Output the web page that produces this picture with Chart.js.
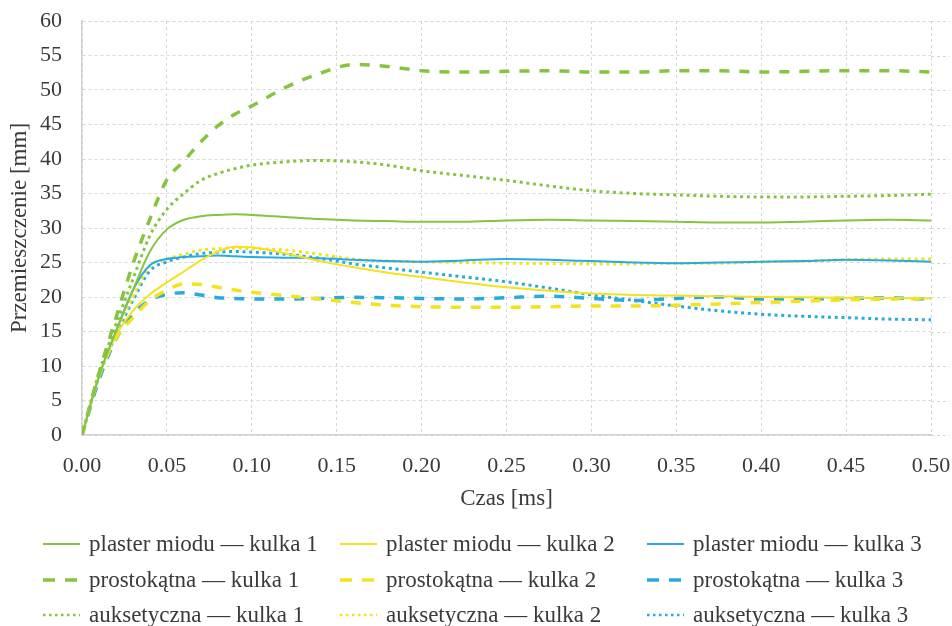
<!DOCTYPE html>
<html><head><meta charset="utf-8">
<script src="https://cdn.jsdelivr.net/npm/chart.js@4.4.1/dist/chart.umd.min.js"></script>
<style>
html,body{margin:0;padding:0;background:#fff;}
#wrap{position:relative;width:952px;height:626px;overflow:hidden;}
#c{position:absolute;left:0;top:0;}
#legend{position:absolute;left:0;top:0;width:952px;height:626px;font-family:"Liberation Serif",serif;font-size:23px;color:#3a3a3a;}
.item{position:absolute;display:flex;align-items:center;height:30px;white-space:nowrap;}
.item svg{margin-right:9px;flex:none;}
</style></head><body>
<div id="wrap"><canvas id="c" width="952" height="515"></canvas><div id="legend"></div></div>
<script>
// ---- data ----
const times = [0, 0.01, 0.02, 0.03, 0.04, 0.05, 0.06, 0.07, 0.08, 0.09, 0.10, 0.12, 0.14, 0.16, 0.18, 0.20, 0.225, 0.25, 0.275, 0.30, 0.325, 0.35, 0.375, 0.40, 0.425, 0.45, 0.475, 0.50];

const plasterK1 = [0, 8.5, 15, 21, 26.6, 29.8, 31.2, 31.7, 31.9, 32.0, 31.9, 31.6, 31.3, 31.1, 31.0, 30.9, 30.9, 31.1, 31.2, 31.1, 31.0, 30.9, 30.8, 30.8, 30.9, 31.1, 31.2, 31.1];
const plasterK2 = [0, 8.5, 14.4, 18, 20.4, 22.1, 23.7, 25.3, 26.6, 27.3, 27.2, 26.3, 25.2, 24.3, 23.5, 22.9, 22.1, 21.4, 20.9, 20.5, 20.3, 20.2, 20.1, 20.0, 19.95, 19.9, 19.85, 19.8];
const plasterK3 = [0, 8.5, 15, 21, 24.6, 25.5, 25.8, 25.9, 26.0, 25.9, 25.8, 25.7, 25.6, 25.4, 25.2, 25.1, 25.3, 25.5, 25.4, 25.2, 25.0, 24.9, 25.0, 25.1, 25.2, 25.4, 25.3, 25.1];

const prostK1 = [0, 9, 17, 24.8, 31.3, 37.0, 39.7, 42.5, 44.8, 46.5, 47.7, 50.4, 52.4, 53.7, 53.4, 52.8, 52.6, 52.7, 52.8, 52.6, 52.6, 52.8, 52.8, 52.6, 52.7, 52.8, 52.8, 52.6];
const prostK2 = [0, 8.5, 14, 17, 19.5, 21.0, 21.9, 21.8, 21.4, 21.0, 20.7, 20.2, 19.7, 19.2, 18.8, 18.6, 18.5, 18.5, 18.6, 18.7, 18.7, 18.8, 19.0, 19.2, 19.4, 19.6, 19.7, 19.8];
const prostK3 = [0, 8, 13.9, 17.5, 19.5, 20.4, 20.6, 20.3, 19.9, 19.8, 19.7, 19.7, 19.8, 19.95, 19.9, 19.8, 19.7, 19.9, 20.1, 19.8, 19.5, 19.8, 20.0, 19.7, 19.7, 19.8, 19.85, 19.7];

const auksK1 = [0, 9, 16, 22.6, 28.9, 32.7, 35.0, 36.9, 37.9, 38.6, 39.1, 39.6, 39.8, 39.6, 39.1, 38.3, 37.6, 36.9, 36.1, 35.4, 35.0, 34.8, 34.6, 34.5, 34.5, 34.6, 34.7, 34.9];
const auksK2 = [0, 8.5, 15, 20, 24.5, 25.5, 26.2, 26.8, 27.0, 27.1, 27.0, 26.8, 26.2, 25.5, 25.2, 25.1, 25.0, 24.9, 24.85, 24.8, 24.8, 24.9, 24.9, 25.1, 25.2, 25.4, 25.5, 25.5];
const auksK3 = [0, 8.5, 14.5, 19.5, 23.8, 25.1, 25.8, 26.3, 26.5, 26.6, 26.5, 26.2, 25.6, 24.8, 24.2, 23.6, 22.9, 22.2, 21.3, 20.3, 19.5, 18.7, 18.0, 17.5, 17.2, 17.0, 16.8, 16.7];

const seriesNames = [
  'plaster miodu — kulka 1', 'plaster miodu — kulka 2', 'plaster miodu — kulka 3',
  'prostokątna — kulka 1', 'prostokątna — kulka 2', 'prostokątna — kulka 3',
  'auksetyczna — kulka 1', 'auksetyczna — kulka 2', 'auksetyczna — kulka 3'
];
const seriesValues = [plasterK1, plasterK2, plasterK3, prostK1, prostK2, prostK3, auksK1, auksK2, auksK3];

const xTickValues = [0, 0.05, 0.10, 0.15, 0.20, 0.25, 0.30, 0.35, 0.40, 0.45, 0.50];
const yTickValues = [0, 5, 10, 15, 20, 25, 30, 35, 40, 45, 50, 55, 60];
const xTitle = 'Czas [ms]';
const yTitle = 'Przemieszczenie [mm]';

// ---- styles ----
const colors = ['#86c440', '#f3e21c', '#27aae1'];
const styles = [
  {width: 2, dash: []},
  {width: 3.5, dash: [10, 10]},
  {width: 3, dash: [3, 3.7]}
];
const gridColor = '#d6d6d6';
const textColor = '#3a3a3a';
const FONT = "'Liberation Serif', serif";

const datasets = seriesValues.map((vals, i) => {
  const st = styles[Math.floor(i / 3)];
  return {
    label: seriesNames[i],
    data: times.map((t, j) => ({x: t, y: vals[j]})),
    borderColor: colors[i % 3],
    backgroundColor: colors[i % 3],
    borderWidth: st.width,
    borderDash: st.dash,
    borderCapStyle: 'butt',
    pointRadius: 0,
    fill: false,
    cubicInterpolationMode: 'monotone'
  };
});

const extendGrid = {
  id: 'extendGrid',
  beforeDatasetsDraw(chart) {
    const {ctx, chartArea, scales: {y}} = chart;
    ctx.save();
    ctx.strokeStyle = gridColor;
    ctx.lineWidth = 1;
    ctx.setLineDash([3, 3]);
    y.ticks.forEach(t => {
      const py = Math.round(y.getPixelForValue(t.value)) + 0.5;
      ctx.beginPath();
      ctx.moveTo(chartArea.right, py);
      ctx.lineTo(chartArea.right + 19, py);
      ctx.stroke();
    });
    ctx.restore();
  }
};

new Chart(document.getElementById('c'), {
  type: 'line',
  data: {datasets},
  plugins: [extendGrid],
  options: {
    responsive: false,
    devicePixelRatio: 1,
    animation: false,
    layout: {padding: {top: 21, right: 21, left: 0, bottom: 0}},
    plugins: {legend: {display: false}, tooltip: {enabled: false}},
    scales: {
      x: {
        type: 'linear', min: 0, max: 0.5,
        afterBuildTicks: s => { s.ticks = xTickValues.map(v => ({value: v})); },
        afterFit: s => { s.height = 80; s.paddingLeft = 0; s.paddingRight = 0; },
        ticks: {
          callback: v => Number(v).toFixed(2),
          font: {family: FONT, size: 22}, color: textColor, padding: 18, maxRotation: 0, autoSkip: false
        },
        grid: {color: gridColor, lineWidth: 1, drawTicks: false},
        border: {display: true, color: '#d0d0d0', width: 1.5, dash: [3, 3]},
        title: {display: true, text: xTitle, font: {family: FONT, size: 23}, color: textColor, padding: {top: 0, bottom: 2}}
      },
      y: {
        min: 0, max: 60,
        afterBuildTicks: s => { s.ticks = yTickValues.map(v => ({value: v})); },
        afterFit: s => { s.width = 82; s.paddingTop = 0; s.paddingBottom = 0; },
        ticks: {
          callback: v => String(v),
          font: {family: FONT, size: 22}, color: textColor, padding: 20
        },
        grid: {color: gridColor, lineWidth: 1, drawTicks: false},
        border: {display: true, color: '#d0d0d0', width: 1.5, dash: [3, 3]},
        title: {display: true, text: yTitle, font: {family: FONT, size: 23}, color: textColor, padding: {top: 6, bottom: 0}}
      }
    }
  }
});

// ---- HTML legend ----
const legendCols = [43, 340, 647];
const legendRows = [544, 580, 615];
const legend = document.getElementById('legend');
datasets.forEach((ds, i) => {
  const row = Math.floor(i / 3), col = i % 3;
  const st = styles[row];
  const item = document.createElement('div');
  item.className = 'item';
  item.style.left = legendCols[col] + 'px';
  item.style.top = (legendRows[row] - 15) + 'px';
  const dashAttr = st.dash.length ? ` stroke-dasharray="${row === 1 ? '12 10' : '2.5 3.5'}"` : '';
  item.innerHTML = `<svg width="37" height="8"><line x1="0" y1="4" x2="37" y2="4" stroke="${ds.borderColor}" stroke-width="${row === 0 ? 2 : (row === 1 ? 3.5 : 2.5)}"${dashAttr}/></svg><span>${ds.label}</span>`;
  legend.appendChild(item);
});
</script>
</body></html>
